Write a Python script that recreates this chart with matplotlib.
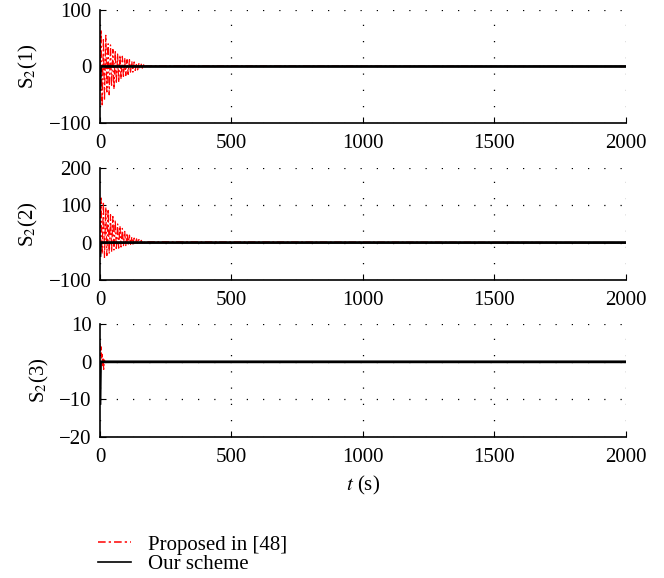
import matplotlib
matplotlib.use("Agg")
import matplotlib.pyplot as plt
from matplotlib.lines import Line2D

plt.rcParams['font.family'] = ['Liberation Serif', 'DejaVu Serif']
plt.rcParams['mathtext.fontset'] = 'stix'
plt.rcParams['font.size'] = 15

# ---- data ----
t_red1 = [0, 4, 8, 13, 17, 22, 26, 31, 35, 40, 44, 49, 53, 58, 62, 67, 71, 76, 80, 85,
          89, 94, 98, 103, 107, 112, 116, 121, 125, 130, 134, 139, 143, 148, 152, 157,
          161, 166, 170, 175, 2000]
s1_red = [0, 65, -70, 50, -60, 55, -45, 40, -50, 38, -35, 30, -40, 28, -30, 22, -28, 20,
          -22, 18, -20, 15, -16, 12, -14, 12, -10, 9, -10, 8, -7, 6, -6, 5, -4, 4, -3, 3,
          -2, 1, 0]
s2_red = [0, 120, -30, 110, -40, 95, -35, 90, -30, 75, -25, 70, -20, 60, -20, 50, -15, 45,
          -12, 38, -10, 30, -8, 25, -6, 20, -5, 15, -4, 12, -3, 10, -2, 8, -2, 6, -1, 4,
          -1, 2, 0]
t_red3 = [0, 2, 4, 6, 8, 10, 12, 14, 16, 20, 2000]
s3_red = [5, 2, 4, 1, 2, -1, 1, -2, 0.5, 0, 0]

t_black = [0, 2, 2000]
s1_black = [-40, 0, 0]
s2_black = [-35, 0, 0]
s3_black = [-11, 0, 0]

ylabels = ["S$_2$(1)", "S$_2$(2)", "S$_2$(3)"]
yticks = [[-100, 0, 100], [-100, 0, 100, 200], [-20, -10, 0, 10]]
xticks = [0, 500, 1000, 1500, 2000]
legend_labels = ["Proposed in [48]", "Our scheme"]

red_series = [(t_red1, s1_red), (t_red1, s2_red), (t_red3, s3_red)]
black_series = [s1_black, s2_black, s3_black]

fig = plt.figure(figsize=(6.64, 5.78), dpi=100)
left, width = 0.1506, 0.792
boxes = [(0.787, 0.196), (0.516, 0.193), (0.244, 0.195)]
red_style = (0, (6, 2, 1.5, 2))

for i in range(3):
    b, h = boxes[i]
    ax = fig.add_axes([left, b, width, h])
    tr, sr = red_series[i]
    ax.plot(tr, sr, color='red', lw=0.9, linestyle=red_style)
    ax.plot(t_black, black_series[i], color='black', lw=2.0)
    ax.set_xlim(0, 2000)
    ax.set_ylim(yticks[i][0], yticks[i][-1])
    ax.set_xticks(xticks)
    ax.set_yticks(yticks[i])
    ax.grid(True, color='black', linestyle=(0, (1, 12)), lw=0.9)
    ax.spines['top'].set_visible(False)
    ax.spines['right'].set_visible(False)
    ax.spines['left'].set_linewidth(1.2)
    ax.spines['bottom'].set_linewidth(1.2)
    ax.tick_params(axis='x', direction='in', length=4, labelsize=15, pad=8)
    ax.tick_params(axis='y', direction='in', length=4, labelsize=15, pad=6)
    ax.set_ylabel(ylabels[i], fontsize=15, labelpad=6)
    if i == 2:
        ax.set_xlabel(r"$t$ (s)", fontsize=15, labelpad=5)

handles = [Line2D([], [], color='red', lw=1.1, linestyle=(0, (5, 2, 1.5, 2))),
           Line2D([], [], color='black', lw=1.2)]
fig.legend(handles, legend_labels, loc='lower left', bbox_to_anchor=(0.135, -0.008),
           frameon=False, fontsize=15, handlelength=1.6, labelspacing=0.0,
           borderaxespad=0.0, handletextpad=0.8)

fig.savefig("out.png", dpi=100)
